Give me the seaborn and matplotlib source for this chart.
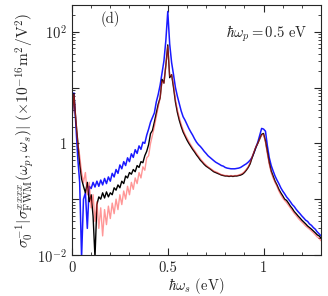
import numpy as np
import pandas as pd
import seaborn as sns
import matplotlib
matplotlib.use('Agg')
import matplotlib.pyplot as plt
from matplotlib.ticker import FixedLocator, FixedFormatter, LogLocator, NullFormatter

# photon energy grid (eV)
omega_s = [
    0.00, 0.01, 0.02, 0.03, 0.04, 0.05, 0.06, 0.07, 0.08, 0.09,
    0.10, 0.11, 0.12, 0.13, 0.14, 0.15, 0.16, 0.17, 0.18, 0.19,
    0.20, 0.21, 0.22, 0.23, 0.24, 0.25, 0.26, 0.27, 0.28, 0.29,
    0.30, 0.31, 0.32, 0.33, 0.34, 0.35, 0.36, 0.37, 0.38, 0.39,
    0.40, 0.41, 0.42, 0.43, 0.44, 0.45, 0.46, 0.47, 0.48, 0.49,
    0.50, 0.51, 0.52, 0.53, 0.54, 0.55, 0.56, 0.57, 0.58, 0.59,
    0.60, 0.61, 0.62, 0.63, 0.64, 0.65, 0.66, 0.67, 0.68, 0.69,
    0.70, 0.71, 0.72, 0.73, 0.74, 0.75, 0.76, 0.77, 0.78, 0.79,
    0.80, 0.81, 0.82, 0.83, 0.84, 0.85, 0.86, 0.87, 0.88, 0.89,
    0.90, 0.91, 0.92, 0.93, 0.94, 0.95, 0.96, 0.97, 0.98, 0.99,
    1.00, 1.01, 1.02, 1.03, 1.04, 1.05, 1.06, 1.07, 1.08, 1.09,
    1.10, 1.11, 1.12, 1.13, 1.14, 1.15, 1.16, 1.17, 1.18, 1.19,
    1.20, 1.21, 1.22, 1.23, 1.24, 1.25, 1.26, 1.27, 1.28, 1.29, 1.30,
]

sigma_blue = [
    3.0, 8.0, 2.2, 0.55, 0.2, 0.009, 0.1, 0.13, 0.03, 0.17,
    0.155, 0.2, 0.165, 0.21, 0.17, 0.22, 0.18, 0.235, 0.19, 0.25,
    0.21, 0.29, 0.25, 0.34, 0.29, 0.41, 0.35, 0.47, 0.40, 0.55,
    0.47, 0.65, 0.56, 0.77, 0.66, 0.9, 0.78, 1.05, 1.0, 1.4,
    1.8, 2.4, 2.9, 3.5, 5.5, 7.5, 11, 18, 30, 70,
    230, 60, 28, 17, 10, 7, 5.2, 3.8, 3.0, 2.6,
    2.2, 1.85, 1.6, 1.4, 1.2, 1.05, 0.95, 0.88, 0.8, 0.72,
    0.66, 0.6, 0.56, 0.52, 0.49, 0.46, 0.44, 0.42, 0.40, 0.39,
    0.37, 0.36, 0.355, 0.35, 0.35, 0.35, 0.355, 0.36, 0.37, 0.39,
    0.41, 0.43, 0.46, 0.5, 0.56, 0.68, 0.85, 1.05, 1.4, 1.85,
    1.8, 1.65, 0.9, 0.55, 0.4, 0.32, 0.26, 0.22, 0.19, 0.16,
    0.14, 0.125, 0.11, 0.1, 0.09, 0.08, 0.074, 0.066, 0.06, 0.055,
    0.05, 0.046, 0.042, 0.04, 0.036, 0.034, 0.031, 0.029, 0.026, 0.024, 0.022,
]

sigma_black = [
    3.0, 7.8, 2.6, 1.1, 0.45, 0.23, 0.17, 0.13, 0.2, 0.09,
    0.12, 0.05, 0.009, 0.08, 0.11, 0.1, 0.13, 0.105, 0.135, 0.11,
    0.13, 0.12, 0.16, 0.145, 0.18, 0.16, 0.21, 0.19, 0.26, 0.24,
    0.3, 0.28, 0.34, 0.31, 0.4, 0.37, 0.47, 0.45, 0.6, 0.72,
    0.95, 1.5, 1.7, 2.4, 3.5, 5.0, 6.5, 14, 12, 25,
    58, 15, 17, 10, 5.5, 3.6, 2.6, 2.0, 1.6, 1.35,
    1.15, 1.0, 0.88, 0.78, 0.7, 0.62, 0.56, 0.5, 0.46, 0.42,
    0.39, 0.37, 0.35, 0.33, 0.31, 0.3, 0.29, 0.28, 0.27, 0.265,
    0.26, 0.26, 0.255, 0.26, 0.255, 0.26, 0.26, 0.265, 0.27, 0.28,
    0.3, 0.33, 0.37, 0.43, 0.55, 0.68, 0.85, 1.0, 1.2, 1.45,
    1.5, 1.1, 0.7, 0.45, 0.32, 0.26, 0.21, 0.18, 0.15, 0.13,
    0.115, 0.1, 0.095, 0.085, 0.075, 0.068, 0.06, 0.055, 0.05, 0.046,
    0.042, 0.039, 0.036, 0.033, 0.031, 0.029, 0.027, 0.025, 0.023, 0.022, 0.02,
]

sigma_red = [
    2.5, 7.5, 2.8, 1.0, 0.6, 0.3, 0.2, 0.3, 0.12, 0.2,
    0.07, 0.12, 0.04, 0.09, 0.03, 0.07, 0.022, 0.065, 0.035, 0.075,
    0.045, 0.085, 0.055, 0.1, 0.065, 0.12, 0.08, 0.14, 0.1, 0.17,
    0.12, 0.2, 0.15, 0.24, 0.19, 0.3, 0.24, 0.38, 0.33, 0.55,
    0.6, 1.0, 1.4, 2.0, 3.0, 4.5, 6.5, 13, 12, 25,
    55, 16, 17, 11, 6, 4, 2.9, 2.2, 1.75, 1.45,
    1.25, 1.08, 0.94, 0.83, 0.74, 0.66, 0.59, 0.53, 0.48, 0.44,
    0.41, 0.38, 0.36, 0.34, 0.32, 0.31, 0.3, 0.285, 0.275, 0.27,
    0.265, 0.265, 0.26, 0.265, 0.26, 0.265, 0.265, 0.27, 0.28, 0.29,
    0.31, 0.34, 0.38, 0.45, 0.57, 0.7, 0.87, 1.0, 1.2, 1.4,
    1.45, 1.05, 0.65, 0.42, 0.3, 0.24, 0.2, 0.17, 0.14, 0.12,
    0.105, 0.095, 0.087, 0.078, 0.07, 0.063, 0.056, 0.051, 0.046, 0.042,
    0.039, 0.036, 0.033, 0.031, 0.029, 0.027, 0.025, 0.023, 0.021, 0.02, 0.018,
]

x_ticks = [0, 0.5, 1]
x_labels = ['0', '0.5', '1']
y_ticks = [1e-2, 1, 1e2]
y_labels = [r'$10^{-2}$', '1', r'$10^2$']

df = pd.DataFrame({'w': omega_s, 'blue': sigma_blue,
                   'black': sigma_black, 'red': sigma_red})

sns.set_style('ticks')
plt.rcParams['font.family'] = 'serif'
plt.rcParams['font.serif'] = ['cmr10', 'DejaVu Serif']
plt.rcParams['mathtext.fontset'] = 'cm'
plt.rcParams['axes.unicode_minus'] = False
plt.rcParams['font.size'] = 10.5

fig = plt.figure(figsize=(3.28, 2.96), dpi=100)
ax = fig.add_axes([0.2195, 0.1385, 0.7592, 0.8445])

sns.lineplot(data=df, x='w', y='blue', ax=ax, color='#1a1aff', lw=1.1, estimator=None)
sns.lineplot(data=df, x='w', y='black', ax=ax, color='black', lw=1.0, estimator=None)
sns.lineplot(data=df, x='w', y='red', ax=ax, color='#ff3030', lw=1.0, alpha=0.5, estimator=None)

ax.set_yscale('log')
ax.set_xlim(0, 1.3)
ax.set_ylim(1e-2, 300)

ax.xaxis.set_major_locator(FixedLocator(x_ticks))
ax.xaxis.set_major_formatter(FixedFormatter(x_labels))
ax.xaxis.set_minor_locator(FixedLocator([0.1, 0.2, 0.3, 0.4, 0.6, 0.7, 0.8, 0.9, 1.1, 1.2]))

ax.yaxis.set_major_locator(FixedLocator([1e-2, 1e-1, 1, 10, 100]))
ax.yaxis.set_major_formatter(FixedFormatter([y_labels[0], '', y_labels[1], '', y_labels[2]]))
ax.yaxis.set_minor_locator(LogLocator(base=10, subs=np.arange(2, 10), numticks=20))
ax.yaxis.set_minor_formatter(NullFormatter())

ax.tick_params(which='both', direction='in', top=True, right=True, labelsize=10.5)
ax.tick_params(which='major', length=5, width=0.8)
ax.tick_params(axis='x', which='major', pad=4.5)
ax.tick_params(which='minor', length=2.5, width=0.6)
for s in ax.spines.values():
    s.set_linewidth(0.8)

ax.set_xlabel(r'$\hbar\omega_s$ (eV)', fontsize=10.5, labelpad=0.5)
ax.set_ylabel(r'$\sigma_0^{-1}|\sigma^{xxxx}_{\rm FWM}(\omega_p,\omega_s)|$ $(\times 10^{-16}{\rm m}^2/{\rm V}^2)$',
              fontsize=11.2, labelpad=1)

ax.text(0.153, 0.945, '(d)', transform=ax.transAxes, ha='center', va='center', fontsize=10.5)
ax.text(0.945, 0.885, r'$\hbar\omega_p = 0.5$ eV', transform=ax.transAxes, ha='right', va='center',
        fontsize=10.5)

fig.savefig('out.png', dpi=100)
